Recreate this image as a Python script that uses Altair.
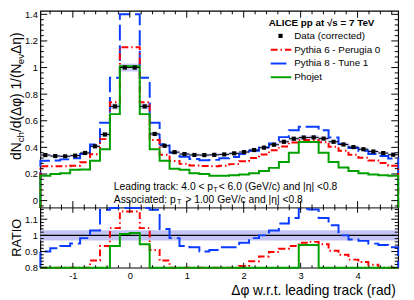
import altair as alt
import numpy as np
import pandas as pd

# ---------------- values ----------------
N_BINS = 36
PHI_MIN, PHI_MAX = -np.pi / 2, 3 * np.pi / 2

data_corrected = [0.342, 0.335, 0.333, 0.338, 0.358, 0.408, 0.497, 0.708, 1.000, 1.000,
                  0.708, 0.501, 0.412, 0.364, 0.350, 0.343, 0.342, 0.344, 0.347, 0.355,
                  0.365, 0.380, 0.398, 0.420, 0.442, 0.465, 0.474, 0.475, 0.466, 0.442,
                  0.422, 0.402, 0.386, 0.369, 0.357, 0.345]
syst_rel = 0.03

pythia6 = [0.258, 0.258, 0.258, 0.262, 0.289, 0.348, 0.462, 0.740, 1.152, 1.152,
           0.740, 0.455, 0.345, 0.298, 0.276, 0.264, 0.260, 0.258, 0.262, 0.274,
           0.296, 0.320, 0.347, 0.378, 0.407, 0.437, 0.455, 0.455, 0.438, 0.404,
           0.375, 0.345, 0.322, 0.302, 0.282, 0.262]
pythia8 = [0.300, 0.302, 0.310, 0.318, 0.350, 0.421, 0.585, 0.923, 1.400, 1.400,
           0.923, 0.585, 0.423, 0.360, 0.330, 0.312, 0.304, 0.306, 0.318, 0.328,
           0.350, 0.375, 0.400, 0.430, 0.477, 0.528, 0.555, 0.555, 0.528, 0.475,
           0.426, 0.395, 0.375, 0.350, 0.336, 0.316]
phojet = [0.186, 0.200, 0.205, 0.232, 0.234, 0.300, 0.386, 0.650, 1.010, 1.010,
          0.650, 0.386, 0.300, 0.240, 0.232, 0.205, 0.200, 0.186, 0.186, 0.190,
          0.196, 0.205, 0.222, 0.246, 0.290, 0.360, 0.440, 0.440, 0.360, 0.290,
          0.248, 0.222, 0.205, 0.196, 0.190, 0.186]

ratio_pythia6 = [0.755, 0.770, 0.775, 0.775, 0.790, 0.844, 0.935, 1.045, 1.148, 1.148,
                 1.045, 0.910, 0.844, 0.790, 0.780, 0.770, 0.760, 0.750, 0.755, 0.770,
                 0.810, 0.840, 0.870, 0.897, 0.917, 0.935, 0.955, 0.960, 0.945, 0.905,
                 0.880, 0.850, 0.835, 0.818, 0.790, 0.760]
ratio_pythia8 = [0.900, 0.920, 0.935, 0.950, 0.983, 1.030, 1.158, 1.300, 1.400, 1.400,
                 1.300, 1.158, 1.040, 0.983, 0.935, 0.926, 0.900, 0.910, 0.926, 0.926,
                 0.954, 0.983, 1.000, 1.030, 1.074, 1.107, 1.164, 1.160, 1.107, 1.063,
                 1.000, 0.974, 0.966, 0.949, 0.940, 0.926]
ratio_phojet = [0.54, 0.60, 0.62, 0.69, 0.65, 0.74, 0.78, 0.935, 1.008, 1.015,
                0.945, 0.77, 0.73, 0.66, 0.66, 0.60, 0.58, 0.54, 0.54, 0.54,
                0.54, 0.54, 0.56, 0.59, 0.66, 0.77, 0.94, 0.94, 0.77, 0.66,
                0.59, 0.55, 0.53, 0.53, 0.53, 0.54]
ratio_band = 0.032

x_major = [-1, 0, 1, 2, 3, 4]
top_major = [0, 0.2, 0.4, 0.6, 0.8, 1, 1.2, 1.4]
ratio_major = [0.8, 0.9, 1, 1.1]
TOP_DOMAIN = [-0.055, 1.426]
RATIO_DOMAIN = [0.8, 1.17]

legend_title = "ALICE pp at \u221as = 7 TeV"
legend_labels = ["Data (corrected)", "Pythia 6 -  Perugia 0", "Pythia 8 -  Tune 1", "Phojet"]
# y title pieces: (text, is_subscript)
y_title_parts = [("dN", False), ("ch", True), ("/d(\u0394\u03c6) 1/(N", False),
                 ("ev", True), (" \u0394\u03b7)", False)]

# ---------------- styling / layout ----------------
FONT = "Liberation Sans"
W, H_TOP, H = 365, 201, 262
RED, BLUE, GREEN = "#ff0000", "#0a3cff", "#00a000"
BAND = "#c4c4f4"
DASH_RED = [7, 3, 1.5, 3]
DASH_BLUE = [16, 5]

x_minor = [round(-1.4 + 0.2 * k, 1) for k in range(31)]
x_minor = [v for v in x_minor if abs(v - round(v)) > 1e-6]
top_minor = [round(-0.04 + 0.04 * k, 2) for k in range(37)]
top_minor = [v for v in top_minor if abs(v * 5 - round(v * 5)) > 1e-6]
ratio_minor = [round(0.8 + 0.02 * k, 2) for k in range(19)]
ratio_minor = [v for v in ratio_minor if abs(v * 10 - round(v * 10)) > 1e-6]

edges = np.linspace(PHI_MIN, PHI_MAX, N_BINS + 1)
lo, hi = edges[:-1], edges[1:]
ctr = 0.5 * (lo + hi)

XS = alt.Scale(domain=[PHI_MIN, PHI_MAX], nice=False, zero=False)
YT = alt.Scale(domain=TOP_DOMAIN, range=[H_TOP, 0], nice=False, zero=False)
YR = alt.Scale(domain=RATIO_DOMAIN, range=[H, H_TOP], nice=False, zero=False, clamp=True)

common_ax = dict(ticks=False, tickSize=0, domain=False, grid=False, labelFont=FONT,
                 labelFontSize=9.5, labelColor="black", labelPadding=3, labelOverlap=False,
                 labelFlush=False, titleFont=FONT, titleFontWeight="normal", titleColor="black",
                 labelExpr="'' + datum.value")
XAX = alt.Axis(values=x_major, orient="bottom", title="\u0394\u03c6 w.r.t. leading track (rad)",
               titleFontSize=14, titleX=362, titleY=27, titleAlign="right",
               titleBaseline="alphabetic", **common_ax)
YTAX = alt.Axis(values=top_major, orient="left", title=None, **common_ax)
YRAX = alt.Axis(values=ratio_major, orient="left", title="RATIO", titleFontSize=13,
                titleX=-20, titleY=231, titleAngle=-90, titleAlign="center",
                titleBaseline="alphabetic", **common_ax)


def xq(f):
    return alt.X(f, type="quantitative", scale=XS, axis=XAX)


def yt(f):
    return alt.Y(f, type="quantitative", scale=YT, axis=YTAX)


def yr(f):
    return alt.Y(f, type="quantitative", scale=YR, axis=YRAX)


def step_frame(vals, floor):
    xs = np.r_[lo[0], lo, hi[-1]]
    ys = np.r_[floor, np.asarray(vals, float), floor]
    return pd.DataFrame({"x": xs, "y": ys, "i": np.arange(len(xs))})


def step_line(vals, floor, color, dash, yenc):
    kw = dict(interpolate="step-after", color=color, strokeWidth=2)
    if dash:
        kw["strokeDash"] = dash
    return alt.Chart(step_frame(vals, floor)).mark_line(**kw).encode(
        x=xq("x"), y=yenc("y"), order=alt.Order("i:Q"))


def text(s, x, y, size=10, weight="normal", align="left", angle=0, baseline="middle"):
    return alt.Chart(pd.DataFrame({"t": [s]})).mark_text(
        align=align, baseline=baseline, font=FONT, fontSize=size, fontWeight=weight,
        color="black", angle=angle).encode(x=alt.value(x), y=alt.value(y), text="t:N")


def hrule_px(x0, x1, y, color, dash=None, width=2):
    kw = dict(color=color, strokeWidth=width)
    if dash:
        kw["strokeDash"] = dash
    return alt.Chart(pd.DataFrame({"a": [0]})).mark_rule(**kw).encode(
        x=alt.value(x0), x2=alt.value(x1), y=alt.value(y))


def xticks(vals, y0, length):
    return alt.Chart(pd.DataFrame({"v": vals})).mark_rule(color="black", strokeWidth=1).encode(
        x=xq("v"), y=alt.value(y0), y2=alt.value(y0 + length))


def yticks(vals, yenc, length):
    df = pd.DataFrame({"v": vals})
    left = alt.Chart(df).mark_rule(color="black", strokeWidth=1).encode(
        y=yenc("v"), x=alt.value(0), x2=alt.value(length))
    right = alt.Chart(df).mark_rule(color="black", strokeWidth=1).encode(
        y=yenc("v"), x=alt.value(W), x2=alt.value(W - length))
    return [left, right]


# Liberation Sans advance widths (em units) used to chain the rotated title pieces
ADV = {"d": .556, "N": .722, "c": .5, "h": .556, "/": .278, "(": .333, ")": .333,
       "\u0394": .668, "\u03c6": .60, " ": .278, "1": .556, "e": .556, "v": .5,
       "\u03b7": .556}


def y_title_layers(x_base, y_start, size, sub_size, sub_shift):
    out, y = [], y_start
    for s, sub in y_title_parts:
        fs = sub_size if sub else size
        out.append(text(s, x_base + (sub_shift if sub else 0), y, size=fs, angle=270,
                        baseline="alphabetic"))
        y -= sum(ADV.get(ch, .55) for ch in s) * fs
    return out


# ---------------- top panel ----------------
dat = pd.DataFrame({"lo": lo, "hi": hi, "c": ctr, "v": data_corrected})
dat["s1"] = dat["v"] * (1 - syst_rel)
dat["s2"] = dat["v"] * (1 + syst_rel)

syst = alt.Chart(dat).mark_rect(color=BAND, opacity=0.9).encode(
    x=xq("lo"), x2="hi", y=yt("s1"), y2="s2")
xerr = alt.Chart(dat).mark_rule(color="black", strokeWidth=1).encode(
    x=xq("lo"), x2="hi", y=yt("v"))
pts = alt.Chart(dat).mark_square(size=18, color="black", opacity=1).encode(
    x=xq("c"), y=yt("v"))

top_layers = [syst,
              step_line(pythia8, TOP_DOMAIN[0], BLUE, DASH_BLUE, yt),
              step_line(pythia6, TOP_DOMAIN[0], RED, DASH_RED, yt),
              step_line(phojet, TOP_DOMAIN[0], GREEN, None, yt),
              xerr, pts]

# legend
top_layers += [
    text(legend_title, 233, 12, size=10, weight="bold"),
    alt.Chart(pd.DataFrame({"a": [0]})).mark_square(size=18, color="black", opacity=1).encode(
        x=alt.value(245), y=alt.value(25.5)),
    text(legend_labels[0], 259, 25.5),
    hrule_px(235, 256, 39.7, RED, DASH_RED),
    text(legend_labels[1], 259, 39.7),
    hrule_px(235, 256, 53.7, BLUE, DASH_BLUE),
    text(legend_labels[2], 259, 53.7),
    hrule_px(235, 256, 67.7, GREEN),
    text(legend_labels[3], 259, 67.7),
]
# kinematic annotations
top_layers += [
    text("Leading track: 4.0 < p", 75, 179.7, size=10.5),
    text("T", 176.5, 182.5, size=7.5),
    text("< 6.0 (GeV/c) and |\u03b7| <0.8", 182, 179.7, size=10.5),
    text("Associated: p", 75, 192.7, size=10.5),
    text("T", 139.5, 195.5, size=7.5),
    text("> 1.00 GeV/c and |\u03b7| <0.8", 148, 192.7, size=10.5),
]
# rotated y title with subscripts
top_layers += y_title_layers(-20, 152, 14, 10, 3)
# inward ticks of the top panel
top_layers += yticks(top_major, yt, 7) + yticks(top_minor, yt, 3.5)
top_layers += [xticks(x_major, 0, 7), xticks(x_minor, 0, 3.5),
               xticks(x_major, H_TOP, -7), xticks(x_minor, H_TOP, -3.5)]
top_layers += [alt.Chart(pd.DataFrame({"a": [TOP_DOMAIN[0]]})).mark_rule(
    color="black", strokeWidth=1).encode(y=yt("a"), x=alt.value(0), x2=alt.value(W))]

top = alt.layer(*top_layers)

# ---------------- ratio panel ----------------
band = alt.Chart(pd.DataFrame({"a": [PHI_MIN], "b": [PHI_MAX],
                               "y1": [1 - ratio_band], "y2": [1 + ratio_band]})).mark_rect(
    color=BAND).encode(x=xq("a"), x2="b", y=yr("y1"), y2="y2")
one = alt.Chart(pd.DataFrame({"a": [PHI_MIN], "b": [PHI_MAX], "y": [1.0]})).mark_rule(
    color="black", strokeWidth=1.2).encode(x=xq("a"), x2="b", y=yr("y"))

ratio_layers = [band, one,
                step_line(ratio_pythia8, RATIO_DOMAIN[0], BLUE, DASH_BLUE, yr),
                step_line(ratio_pythia6, RATIO_DOMAIN[0], RED, DASH_RED, yr),
                step_line(ratio_phojet, RATIO_DOMAIN[0], GREEN, None, yr)]
ratio_layers += yticks(ratio_major, yr, 7) + yticks(ratio_minor, yr, 3.5)
ratio_layers += [xticks(x_major, H_TOP, 5), xticks(x_minor, H_TOP, 2.5),
                 xticks(x_major, H, -5), xticks(x_minor, H, -2.5)]
ratio = alt.layer(*ratio_layers)

chart = alt.layer(top, ratio).resolve_scale(y="independent").properties(
    width=W, height=H,
    autosize=alt.AutoSizeParams(type="none"),
    padding={"left": 33, "top": 0, "right": 8, "bottom": 30},
    background="white",
).configure_view(stroke="black", strokeWidth=1.2)

chart.save("out.html", embed_options={"renderer": "svg", "actions": False})
